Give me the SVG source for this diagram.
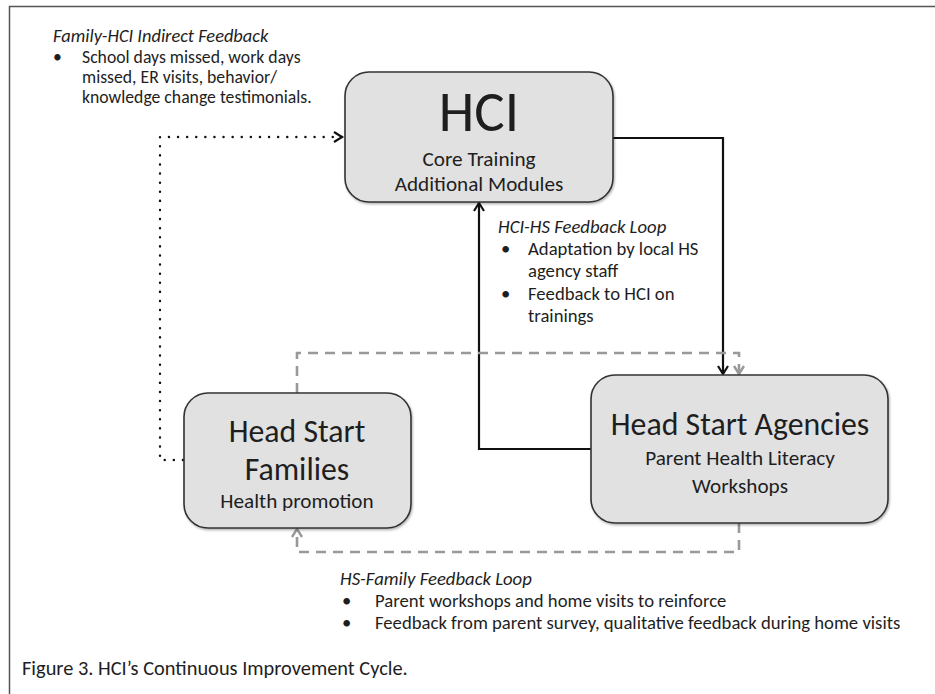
<svg xmlns="http://www.w3.org/2000/svg" width="935" height="694" viewBox="0 0 935 694">
<style>
text{font-family:Carlito,Lato,"Liberation Sans",sans-serif;fill:#1e1e1e}
.mid{text-anchor:middle}
.box{fill:#e1e1e1;stroke:#333;stroke-width:1.6}
.solid{fill:none;stroke:#111;stroke-width:2.2}
.dot{fill:none;stroke:#111;stroke-width:2.4;stroke-linecap:round;stroke-dasharray:0.1 9}
.dash{fill:none;stroke:#999;stroke-width:2.6;stroke-dasharray:10 7}
</style>
<defs>
<filter id="sh" x="-10%" y="-10%" width="120%" height="120%"><feDropShadow dx="1" dy="1.5" stdDeviation="1.2" flood-color="#000" flood-opacity="0.3"/></filter>
<marker id="ab" markerUnits="userSpaceOnUse" markerWidth="14" markerHeight="14" viewBox="-10 -7 12 14" refX="0" refY="0" orient="auto"><path d="M-8,-5 L0,0 L-8,5" fill="none" stroke="#111" stroke-width="2.2"/></marker>
<marker id="ag" markerUnits="userSpaceOnUse" markerWidth="14" markerHeight="14" viewBox="-10 -7 12 14" refX="0" refY="0" orient="auto"><path d="M-8,-5 L0,0 L-8,5" fill="none" stroke="#999" stroke-width="2.4"/></marker>
</defs>
<rect x="9.5" y="6.5" width="940" height="700" fill="#fff" stroke="#555" stroke-width="1.5"/>

<g id="connectors">
<path class="dot" d="M183,460 H160 V137 H342" marker-end="url(#ab)"/>
<path class="solid" d="M613,138 H723 V374" marker-end="url(#ab)"/>
<path class="solid" d="M591,449 H479 V203" marker-end="url(#ab)"/>
<path class="dash" d="M297,393 V353 H739 V374" marker-end="url(#ag)"/>
<path class="dash" d="M739,523 V552 H297 V529" marker-end="url(#ag)"/>
</g>

<g id="hci">
<rect class="box" x="345" y="72" width="268" height="130" rx="24" filter="url(#sh)"/>
<text class="mid" x="479" y="131" font-size="57">HCI</text>
<text class="mid" x="479" y="166" font-size="21.2">Core Training</text>
<text class="mid" x="479" y="191" font-size="21.2">Additional Modules</text>
</g>

<g id="families">
<rect class="box" x="184" y="393" width="227" height="135" rx="24" filter="url(#sh)"/>
<text class="mid" x="297" y="442" font-size="31.8">Head Start</text>
<text class="mid" x="297" y="480" font-size="31.8">Families</text>
<text class="mid" x="297" y="508" font-size="21.2">Health promotion</text>
</g>

<g id="agencies">
<rect class="box" x="591" y="375" width="297" height="148" rx="24" filter="url(#sh)"/>
<text class="mid" x="740" y="435" font-size="31.8">Head Start Agencies</text>
<text class="mid" x="740" y="465" font-size="21.2">Parent Health Literacy</text>
<text class="mid" x="740" y="493" font-size="21.2">Workshops</text>
</g>

<g id="label-family-hci" font-size="17.7">
<text x="53" y="42" font-style="italic" font-size="18.4">Family-HCI Indirect Feedback</text>
<text x="53" y="63">•</text>
<text x="82" y="63">School days missed, work days</text>
<text x="82" y="83">missed, ER visits, behavior/</text>
<text x="82" y="103">knowledge change testimonials.</text>
</g>

<g id="label-hci-hs" font-size="18.7">
<text x="498" y="233" font-style="italic">HCI-HS Feedback Loop</text>
<text x="501" y="255">•</text>
<text x="528" y="255">Adaptation by local HS</text>
<text x="528" y="277">agency staff</text>
<text x="501" y="300">•</text>
<text x="528" y="300">Feedback to HCI on</text>
<text x="528" y="322">trainings</text>
</g>

<g id="label-hs-family" font-size="18.7">
<text x="340" y="585" font-style="italic">HS-Family Feedback Loop</text>
<text x="342" y="607">•</text>
<text x="375" y="607">Parent workshops and home visits to reinforce</text>
<text x="342" y="629">•</text>
<text x="375" y="629">Feedback from parent survey, qualitative feedback during home visits</text>
</g>

<text x="22" y="675" font-size="20.4">Figure 3. HCI’s Continuous Improvement Cycle.</text>
</svg>
